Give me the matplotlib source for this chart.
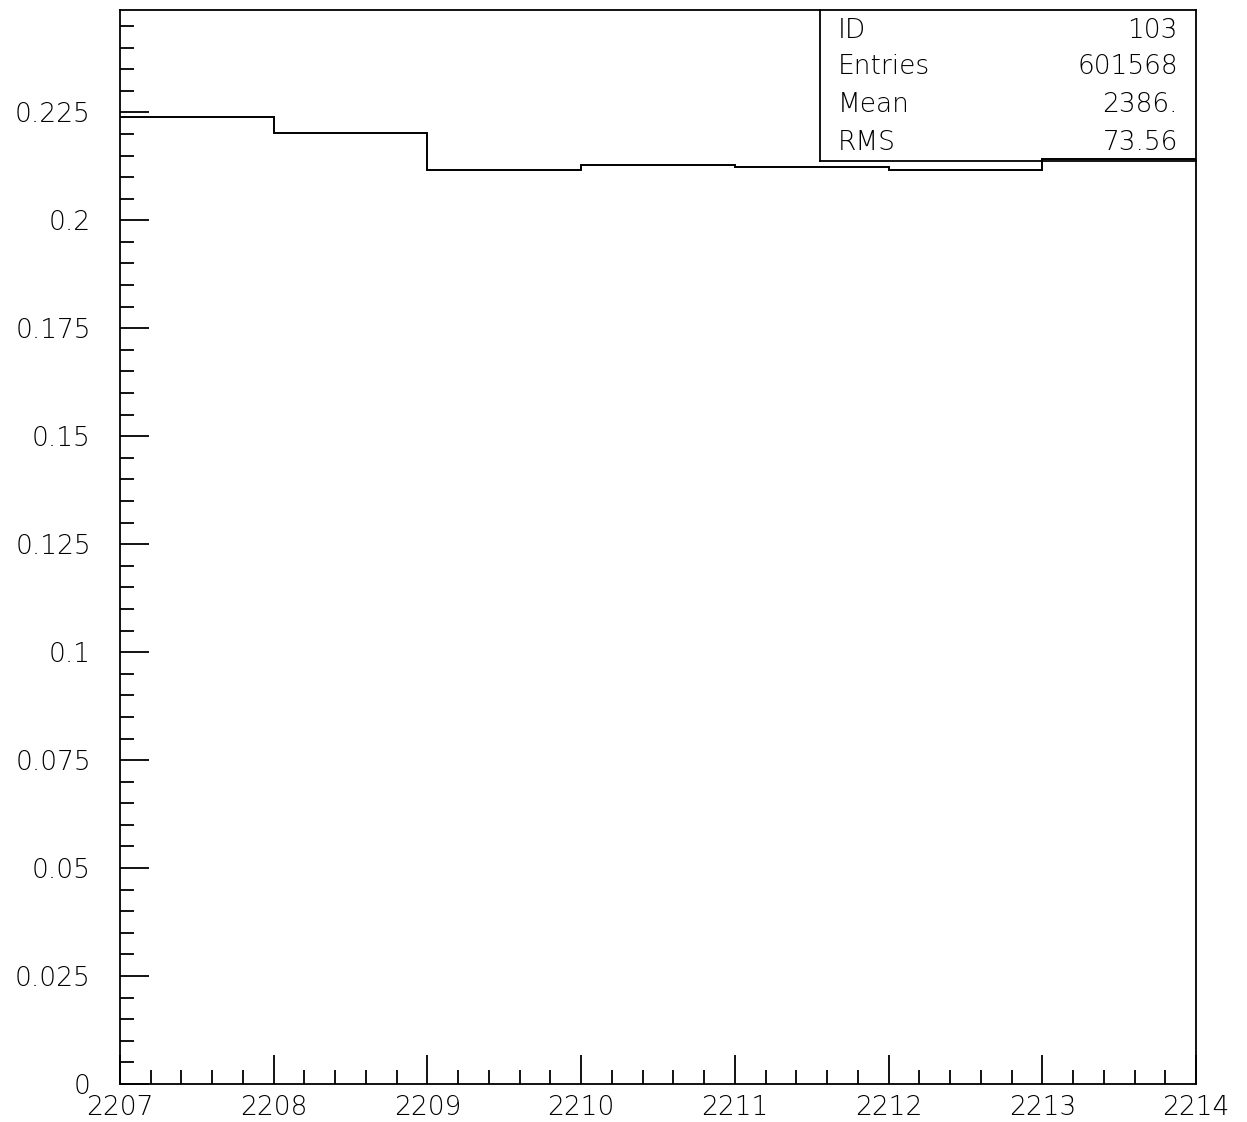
import matplotlib
matplotlib.use("Agg")
import matplotlib.pyplot as plt
from matplotlib.ticker import MultipleLocator, FixedLocator, FuncFormatter

bin_edges = [2207, 2208, 2209, 2210, 2211, 2212, 2213, 2214]
bin_values = [0.22398, 0.22014, 0.21157, 0.21273, 0.21240, 0.21171, 0.21425]
y_ticks = [0, 0.025, 0.05, 0.075, 0.1, 0.125, 0.15, 0.175, 0.2, 0.225]
y_tick_labels = ["0", "0.025", "0.05", "0.075", "0.1", "0.125", "0.15", "0.175", "0.2", "0.225"]
stat_names = ["ID", "Entries", "Mean", "RMS"]
stat_values = ["103", "601568", "2386.", "73.56"]

plt.rcParams["font.family"] = ["DejaVu Sans"]
plt.rcParams["font.weight"] = "light"
FS = 19

W, H = 1247, 1122
fig = plt.figure(figsize=(W / 100, H / 100), dpi=100)
ax = fig.add_axes([120 / W, 1 - 1084 / H, (1196 - 120) / W, (1084 - 10) / H])

ax.stairs(bin_values, bin_edges, color="black", linewidth=1.4, baseline=None)

ax.set_xlim(2207, 2214)
ax.set_ylim(0, 0.2487)

ax.yaxis.set_major_locator(FixedLocator(y_ticks))
ax.set_yticklabels(y_tick_labels)
ax.yaxis.set_minor_locator(MultipleLocator(0.005))
ax.xaxis.set_major_locator(MultipleLocator(1))
ax.xaxis.set_minor_locator(MultipleLocator(0.2))
ax.xaxis.set_major_formatter(FuncFormatter(lambda v, p: f"{int(round(v))}"))

ax.tick_params(which="both", direction="in", top=False, right=False, width=1.3, colors="black")
ax.tick_params(which="major", length=21, labelsize=FS)
ax.tick_params(which="minor", length=10)
ax.tick_params(axis="y", which="major", pad=21)
ax.tick_params(axis="x", which="major", pad=8)
for s in ax.spines.values():
    s.set_linewidth(1.3)

# Stats box
bx0, by_top, bx1, by_bot = 820, 10, 1196, 161
def fx(px):
    return px / W
def fy(py):
    return 1 - py / H
fig.add_artist(plt.Line2D([fx(bx0), fx(bx0)], [fy(by_top), fy(by_bot)], color="black", lw=1.3, transform=fig.transFigure))
fig.add_artist(plt.Line2D([fx(bx0), fx(bx1)], [fy(by_bot), fy(by_bot)], color="black", lw=1.3, transform=fig.transFigure))
rows_y = [30, 67, 104, 142]
for name, val, ry in zip(stat_names, stat_values, rows_y):
    fig.text(fx(838), fy(ry), name, ha="left", va="center", fontsize=FS)
    fig.text(fx(1178), fy(ry), val, ha="right", va="center", fontsize=FS)

fig.savefig("out.png", dpi=100, facecolor="white")
